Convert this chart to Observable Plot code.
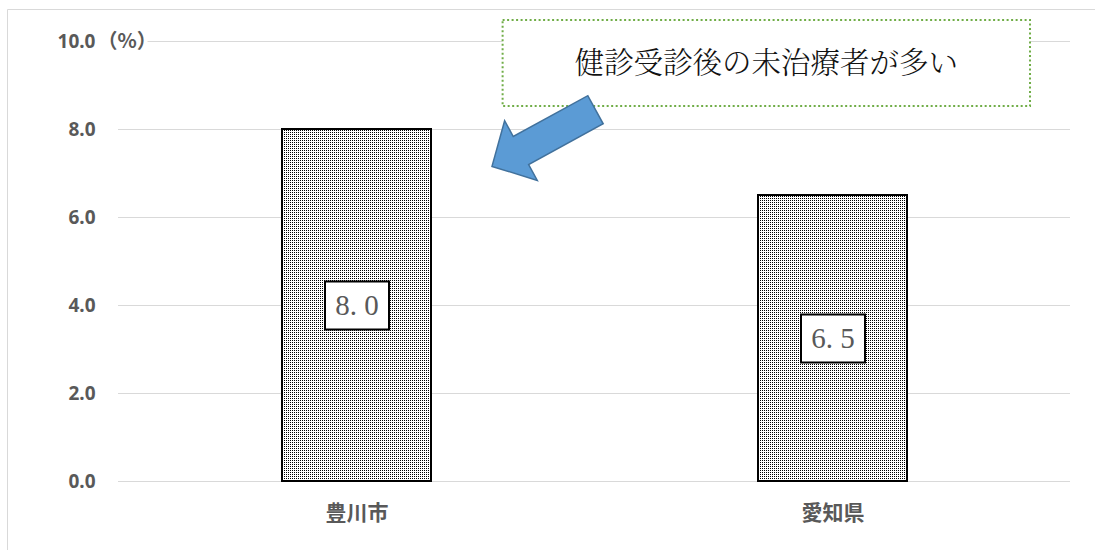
<!DOCTYPE html>
<html><head><meta charset="utf-8">
<script src="https://cdn.jsdelivr.net/npm/d3@7"></script>
<script src="https://cdn.jsdelivr.net/npm/@observablehq/plot@0.6"></script>
<style>body{margin:0;background:#fff;} #chart svg{display:block;}</style>
</head><body><div id="chart"></div>
<script>
// ---- data ----
const categories = ["豊川市", "愛知県"];
const values = [8.0, 6.5];
const yTicks = [0, 2, 4, 6, 8, 10];
const yUnit = "（%）";
const note = "健診受診後の未治療者が多い";
const arrowTipValue = 7.15;   // arrow tip height (in %)
const noteTop = 10.48, noteBottom = 8.52, noteMid = 9.5; // annotation box extent (in %)

const data = categories.map((c, i) => ({category: c, value: values[i]}));
const fmt = d3.format(".1f");

const W = 1095, H = 550;
const axisColor = "#595959";
const sansJP = "'Noto Sans CJK JP', 'Noto Sans', sans-serif";
const serif = "'Liberation Serif', 'DejaVu Serif', serif";

// pattern defs
const defs = () => {
  const d = d3.create("svg:defs");
  const p = d.append("pattern").attr("id", "dots").attr("patternUnits", "userSpaceOnUse")
    .attr("width", 2).attr("height", 2);
  p.append("rect").attr("width", 2).attr("height", 2).attr("fill", "#fff");
  p.append("rect").attr("x", 0).attr("y", 0).attr("width", 1).attr("height", 1).attr("fill", "#000");
  return d.node();
};

// box symbol for value labels
const boxSymbol = {draw(ctx) { ctx.rect(-32, -24, 64, 48); }};

// annotation (dotted box + text + block arrow)
const annotation = (index, scales, vals, dims) => {
  const g = d3.create("svg:g");
  const pw = dims.width - dims.marginLeft - dims.marginRight;
  const x0 = dims.marginLeft + 0.404 * pw, x1 = dims.marginLeft + 0.958 * pw;
  const y0 = scales.y(noteTop), y1 = scales.y(noteBottom);
  g.append("rect").attr("x", x0).attr("y", y0).attr("width", x1 - x0).attr("height", y1 - y0)
    .attr("fill", "#fff").attr("stroke", "#70AD47").attr("stroke-width", 2).attr("stroke-dasharray", "2,2.5");
  g.append("text").attr("x", (x0 + x1) / 2).attr("y", scales.y(noteMid)).attr("dy", "0.35em")
    .attr("text-anchor", "middle").attr("font-family", "'Noto Serif CJK JP', " + sansJP)
    .attr("font-weight", 300).attr("font-size", 29.5).attr("fill", "#111").text(note);
  const tipX = scales.x(categories[0]) + scales.x.bandwidth() + 61;
  const tipY = scales.y(arrowTipValue);
  g.append("polygon")
    .attr("points", "0,0 33,-34 33,-16 118,-16 118,16 33,16 33,34")
    .attr("transform", `translate(${tipX},${tipY}) rotate(-28.7)`)
    .attr("fill", "#5B9BD5").attr("stroke", "#41719C").attr("stroke-width", 1.5).attr("stroke-linejoin", "miter");
  return g.node();
};

const chart = Plot.plot({
  width: W, height: H,
  marginLeft: 118, marginRight: 25, marginTop: 41, marginBottom: 69,
  style: {background: "#fff", overflow: "visible"},
  x: {domain: categories, paddingInner: 0.687, paddingOuter: 0.3435, label: null},
  y: {domain: [0, 10], label: null},
  marks: [
    defs,
    Plot.gridY(yTicks, {stroke: "#d9d9d9", strokeOpacity: 1, strokeWidth: 1}),
    Plot.text([10], {y: d => d, frameAnchor: "left", dx: -21, text: () => yUnit, textAnchor: "start",
      fontSize: 20, fontWeight: "bold", fill: axisColor, fontFamily: sansJP, stroke: "#fff", strokeWidth: 8, paintOrder: "stroke"}),
    Plot.axisY(yTicks, {tickSize: 0, tickPadding: 23, tickFormat: fmt, fontSize: 19, fontWeight: "bold",
      fill: axisColor, fontFamily: "'Noto Sans', " + sansJP, label: null}),
    Plot.axisX({tickSize: 0, tickPadding: 24, fontSize: 21, fontWeight: "bold", fill: axisColor,
      fontFamily: sansJP, label: null}),
    Plot.barY(data, {x: "category", y: "value", fill: "url(#dots)", stroke: "#000", strokeWidth: 2}),
    Plot.dot(data, {x: "category", y: d => d.value / 2, symbol: boxSymbol, r: 10,
      fill: "#fff", stroke: "#000", strokeWidth: 2}),
    Plot.text(data, {x: "category", y: d => d.value / 2, text: d => fmt(d.value).replace(".", ". "),
      fontSize: 29, fontFamily: serif, fill: axisColor}),
    annotation
  ]
});

// chart-area border (top and left)
const svg = d3.select(chart);
svg.append("line").attr("x1", 7.5).attr("x2", W).attr("y1", 9.5).attr("y2", 9.5).attr("stroke", "#d9d9d9");
svg.append("line").attr("x1", 7.5).attr("x2", 7.5).attr("y1", 9.5).attr("y2", H).attr("stroke", "#d9d9d9");

document.getElementById("chart").appendChild(chart);
</script>
</body></html>
